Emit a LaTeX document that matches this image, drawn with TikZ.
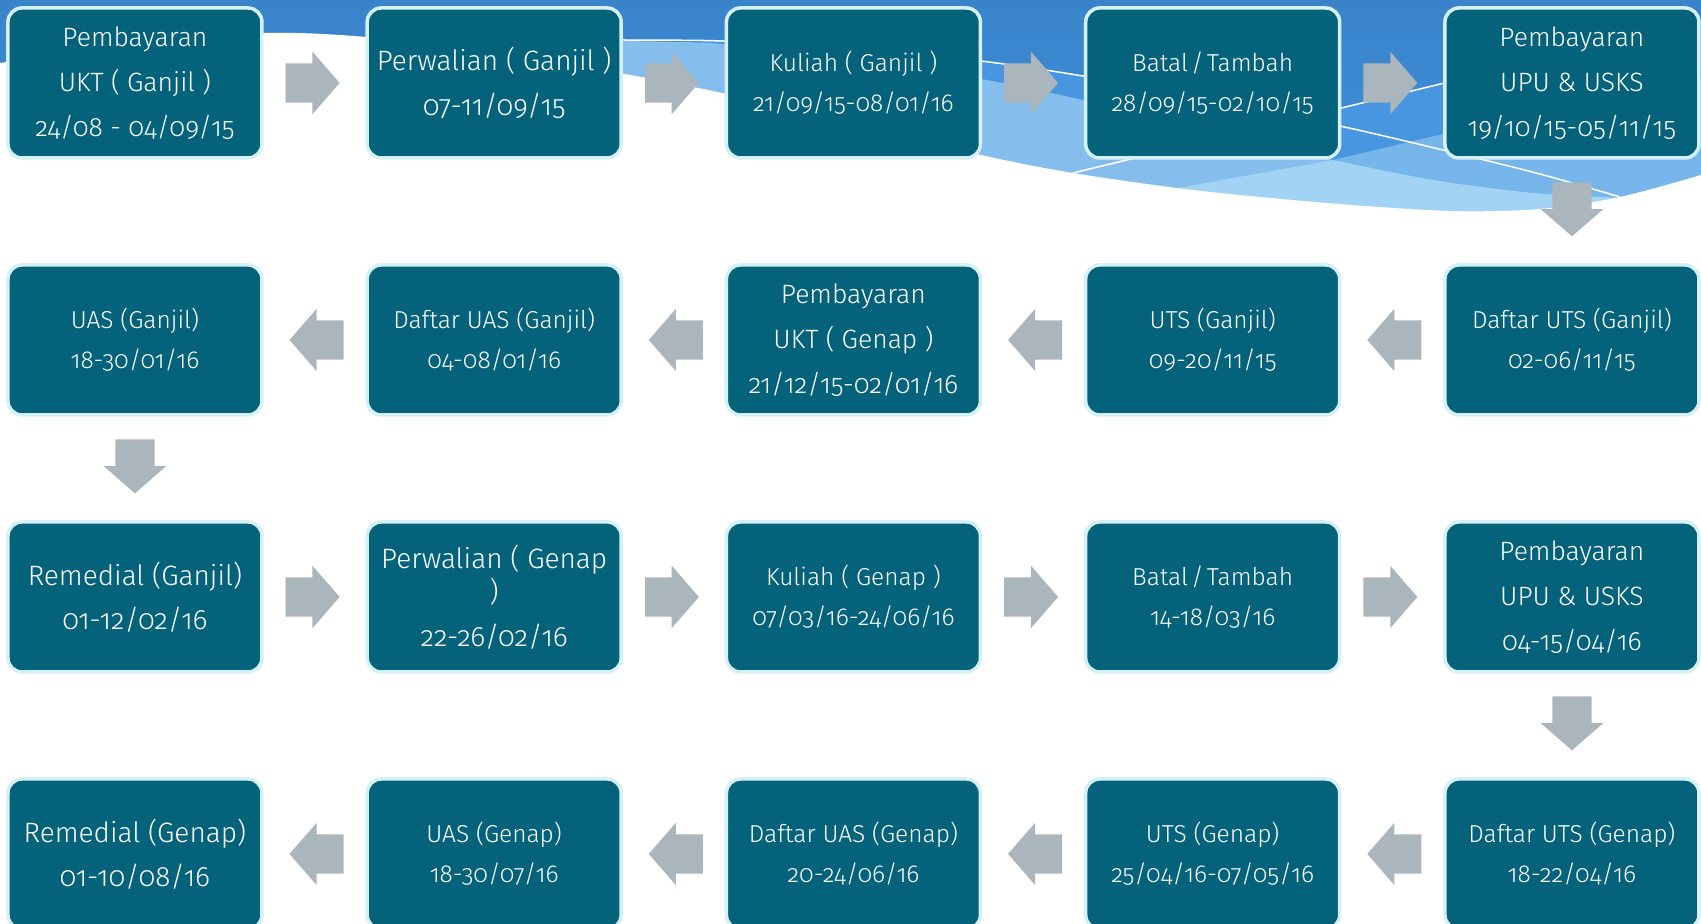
\documentclass[tikz,border=0pt]{standalone}
\usepackage{fontspec}
\setmainfont{Fira Sans}[Numbers=OldStyle, UprightFont=* Light]
\usetikzlibrary{matrix,shapes.arrows}

\definecolor{tealbox}{RGB}{4,98,122}
\definecolor{rimcyan}{RGB}{214,241,246}
\definecolor{arrowgray}{RGB}{171,181,188}
\definecolor{skytop}{RGB}{56,131,202}
\definecolor{skybot}{RGB}{70,148,222}
\definecolor{skymid}{RGB}{72,150,223}
\definecolor{skylight}{RGB}{133,190,236}
\definecolor{skylighter}{RGB}{118,182,235}
\definecolor{skypale}{RGB}{163,211,244}

\tikzset{
  tahap/.style={draw=rimcyan, line width=3.5pt, fill=tealbox, rounded corners=14pt,
    text=white, align=center, minimum width=254pt, minimum height=150pt,
    inner sep=0pt, outer sep=0pt, font=\fontsize{24.5}{40}\selectfont},
  besar/.style={font=\fontsize{28}{44.5}\selectfont},
  bayar/.style={font=\fontsize{26.5}{45}\selectfont},
  rapat/.style={execute at begin node={\spaceskip=3pt plus 1pt\relax}},
  flow/.style={draw=none},
  panah/.style={single arrow, fill=arrowgray, draw=none, inner xsep=0pt,
    inner ysep=19.5pt, minimum height=54pt, single arrow head extend=11.5pt,
    single arrow tip angle=98, sloped, allow upside down, pos=0.4}
}

\begin{document}
\begin{tikzpicture}[x=1pt, y=-1pt]
  \fill[white] (0,0) rectangle (1701,924);
  \useasboundingbox (0,0) rectangle (1701,924);

  % sky waves at the top
  \shade[top color=skytop, bottom color=skybot] (0,0) rectangle (1701,240);
  \fill[skymid] (700,40) -- plot[smooth] coordinates {(723,41) (850,48) (981,61) (1083,76)}
    -- (1340,108.3) -- (1443,83.4) -- (1701,20.8) -- (1701,240) -- (700,240) -- cycle;
  \fill[skylight] plot[smooth] coordinates {(367,37) (500,39) (625,41) (723,44) (850,60)
    (981,79) (1083,100) (1200,128) (1333,160)} -- (1333,240) -- (367,240) -- cycle;
  \fill[skylighter] (1333,160) -- (1443,134) -- (1701,75) -- (1701,240) -- (1333,240) -- cycle;
  \fill[skypale] (1100,202) -- (1333,160) -- plot[smooth] coordinates {(1333,160) (1433,180)
    (1533,193) (1620,198) (1701,205)} -- (1701,240) -- (1100,240) -- cycle;
  \fill[white] plot[smooth] coordinates {(0,63) (140,44) (265,33) (367,37) (500,52) (625,74)
    (722,93) (850,123) (981,155) (1073,173) (1193,190) (1327,203) (1450,211) (1540,209)
    (1620,197) (1701,175)} -- (1701,245) -- (0,245) -- cycle;
  \draw[white, line width=1.5pt] plot[smooth] coordinates {(560,39) (625,40) (723,41) (850,48)
    (981,61) (1083,76) (1200,97) (1340,126) (1443,150) (1540,174) (1620,197)};
  \draw[white, line width=1.5pt] (1073,173) -- (1560,55);

  \matrix (jadwal) [anchor=north west, inner sep=0pt, row sep=103.5pt,
    column sep=101.75pt, nodes={tahap}] at (6,6)
  {
    \node[bayar] (ukt1) {Pembayaran\\UKT ( Ganjil )\\24/08 - 04/09/15}; &
    \node[besar] (wali1) {Perwalian ( Ganjil )\\07-11/09/15}; &
    \node (kul1) {Kuliah ( Ganjil )\\21/09/15-08/01/16}; &
    \node[rapat] (bt1) {Batal / Tambah\\28/09/15-02/10/15}; &
    \node[bayar] (upu1) {Pembayaran\\UPU \& USKS\\19/10/15-05/11/15}; \\
    \node (uas1) {UAS (Ganjil)\\18-30/01/16}; &
    \node (duas1) {Daftar UAS (Ganjil)\\04-08/01/16}; &
    \node[bayar] (ukt2) {Pembayaran\\UKT ( Genap )\\21/12/15-02/01/16}; &
    \node (uts1) {UTS (Ganjil)\\09-20/11/15}; &
    \node (duts1) {Daftar UTS (Ganjil)\\02-06/11/15}; \\
    \node[besar] (rem1) {Remedial (Ganjil)\\01-12/02/16}; &
    \node[besar] (wali2) {Perwalian ( Genap\\[-11pt] )\\22-26/02/16}; &
    \node (kul2) {Kuliah ( Genap )\\07/03/16-24/06/16}; &
    \node[rapat] (bt2) {Batal / Tambah\\14-18/03/16}; &
    \node[bayar] (upu2) {Pembayaran\\UPU \& USKS\\04-15/04/16}; \\
    \node[besar] (rem2) {Remedial (Genap)\\01-10/08/16}; &
    \node (uas2) {UAS (Genap)\\18-30/07/16}; &
    \node (duas2) {Daftar UAS (Genap)\\20-24/06/16}; &
    \node (uts2) {UTS (Genap)\\25/04/16-07/05/16}; &
    \node (duts2) {Daftar UTS (Genap)\\18-22/04/16}; \\
  };

  \path
    (ukt1) edge[flow] node[panah] {} (wali1)
    (wali1) edge[flow] node[panah] {} (kul1)
    (kul1) edge[flow] node[panah] {} (bt1)
    (bt1) edge[flow] node[panah] {} (upu1)
    (upu1) edge[flow] node[panah] {} (duts1)
    (duts1) edge[flow] node[panah] {} (uts1)
    (uts1) edge[flow] node[panah] {} (ukt2)
    (ukt2) edge[flow] node[panah] {} (duas1)
    (duas1) edge[flow] node[panah] {} (uas1)
    (uas1) edge[flow] node[panah] {} (rem1)
    (rem1) edge[flow] node[panah] {} (wali2)
    (wali2) edge[flow] node[panah] {} (kul2)
    (kul2) edge[flow] node[panah] {} (bt2)
    (bt2) edge[flow] node[panah] {} (upu2)
    (upu2) edge[flow] node[panah] {} (duts2)
    (duts2) edge[flow] node[panah] {} (uts2)
    (uts2) edge[flow] node[panah] {} (duas2)
    (duas2) edge[flow] node[panah] {} (uas2)
    (uas2) edge[flow] node[panah] {} (rem2);
\end{tikzpicture}
\end{document}
